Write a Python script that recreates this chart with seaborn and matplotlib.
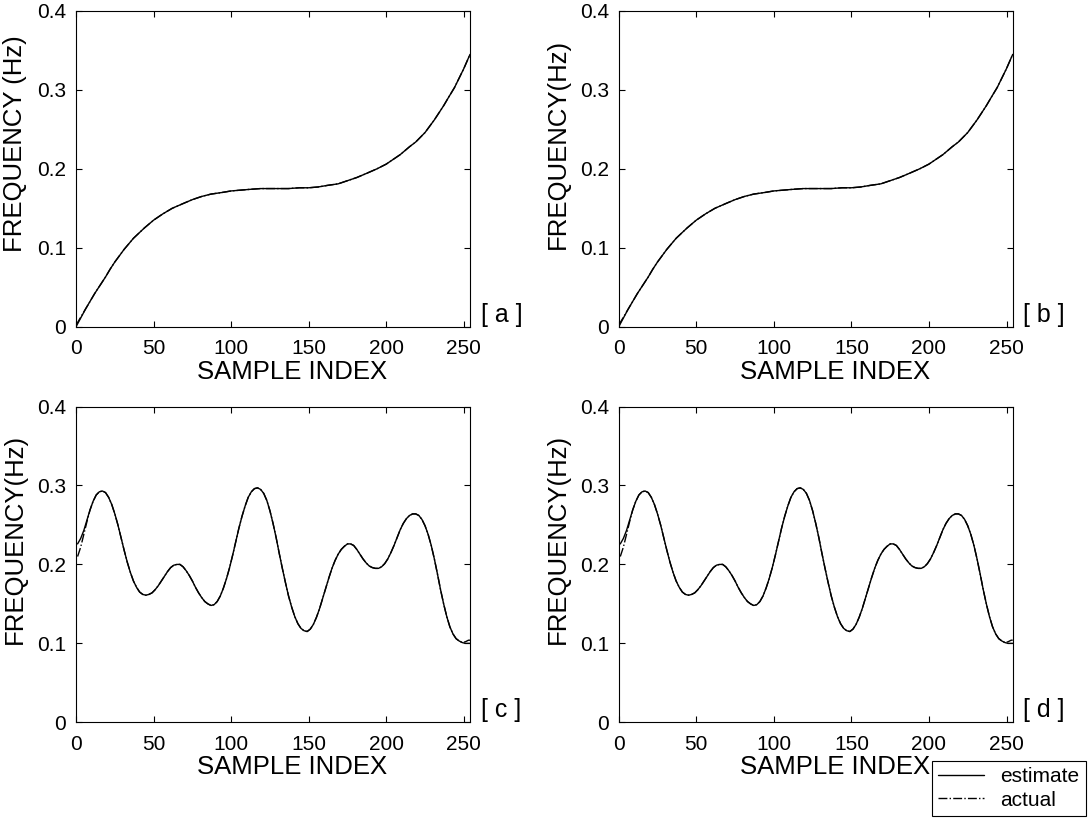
import matplotlib
matplotlib.use('Agg')
import matplotlib.pyplot as plt
import numpy as np
import pandas as pd
import seaborn as sns

# ---- values ----
# panels a / b : slowly bending chirp
idx_top = [0, 3, 6, 9, 12, 16, 19, 22, 25, 31, 37, 44, 50, 56, 62, 69, 75, 81, 87, 94, 100,
           106, 112, 119, 125, 131, 137, 144, 150, 156, 162, 169, 175, 181, 187,
           194, 200, 203, 206, 209, 212, 215, 219, 222, 225, 228, 231, 234, 237,
           240, 244, 247, 250, 252, 254]
est_top = [0.000, 0.011, 0.022, 0.032, 0.042, 0.054, 0.063, 0.073, 0.082, 0.098, 0.112, 0.125, 0.135, 0.143,
           0.150, 0.156, 0.161, 0.165, 0.168, 0.170, 0.172, 0.173, 0.174, 0.175,
           0.175, 0.175, 0.175, 0.176, 0.176, 0.177, 0.179, 0.181, 0.185, 0.189,
           0.194, 0.200, 0.206, 0.210, 0.214, 0.218, 0.223, 0.228, 0.234, 0.240,
           0.246, 0.254, 0.262, 0.271, 0.280, 0.290, 0.303, 0.315, 0.327, 0.336,
           0.345]
act_top = [0.002, 0.012, 0.022, 0.032, 0.042, 0.054, 0.063, 0.073, 0.082, 0.098, 0.112, 0.125, 0.135, 0.143,
           0.150, 0.156, 0.161, 0.165, 0.168, 0.170, 0.172, 0.173, 0.174, 0.175,
           0.175, 0.175, 0.175, 0.176, 0.176, 0.177, 0.179, 0.181, 0.185, 0.189,
           0.194, 0.200, 0.206, 0.210, 0.214, 0.218, 0.223, 0.228, 0.234, 0.240,
           0.246, 0.254, 0.262, 0.271, 0.280, 0.290, 0.303, 0.315, 0.327, 0.336,
           0.345]

# panels c / d : wiggly frequency track
idx_bot = [1, 3, 5, 7, 9, 11, 13, 15, 17, 19, 21, 23, 25, 27, 29, 31, 33, 35,
           37, 39, 41, 43, 45, 47, 49, 51, 53, 55, 57, 59, 61, 63, 65, 67, 69,
           71, 73, 75, 77, 79, 81, 83, 85, 87, 89, 91, 93, 95, 97, 99, 101, 103,
           105, 107, 109, 111, 113, 115, 117, 119, 121, 123, 125, 127, 129, 131,
           133, 135, 137, 139, 141, 143, 145, 147, 149, 151, 153, 155, 157, 159,
           161, 163, 165, 167, 169, 171, 173, 175, 177, 179, 181, 183, 185, 187,
           189, 191, 193, 195, 197, 199, 201, 203, 205, 207, 209, 211, 213, 215,
           217, 219, 221, 223, 225, 227, 229, 231, 233, 235, 237, 239, 241, 243,
           245, 247, 249, 251, 253, 254]
est_bot = [0.226, 0.233, 0.243, 0.256, 0.269, 0.280, 0.288, 0.292, 0.293, 0.291,
           0.285, 0.276, 0.264, 0.250, 0.234, 0.218, 0.203, 0.190, 0.179, 0.171,
           0.165, 0.162, 0.161, 0.162, 0.164, 0.168, 0.173, 0.179, 0.185, 0.191,
           0.196, 0.199, 0.200, 0.200, 0.197, 0.192, 0.186, 0.179, 0.171, 0.164,
           0.158, 0.153, 0.150, 0.148, 0.149, 0.153, 0.160, 0.170, 0.182, 0.196,
           0.212, 0.229, 0.246, 0.261, 0.274, 0.285, 0.292, 0.296, 0.297, 0.295,
           0.290, 0.281, 0.268, 0.252, 0.234, 0.214, 0.195, 0.177, 0.160, 0.146,
           0.134, 0.125, 0.119, 0.116, 0.115, 0.118, 0.124, 0.133, 0.144, 0.157,
           0.170, 0.183, 0.195, 0.205, 0.213, 0.219, 0.223, 0.226, 0.226, 0.224,
           0.219, 0.213, 0.207, 0.202, 0.198, 0.196, 0.195, 0.195, 0.197, 0.201,
           0.207, 0.215, 0.224, 0.234, 0.244, 0.252, 0.258, 0.262, 0.264, 0.264,
           0.262, 0.257, 0.249, 0.238, 0.224, 0.207, 0.188, 0.168, 0.150, 0.134,
           0.121, 0.112, 0.106, 0.103, 0.101, 0.100, 0.100, 0.100]
act_bot = [0.210, 0.222, 0.238, 0.254, 0.269, 0.280, 0.288, 0.292, 0.293, 0.291,
           0.285, 0.276, 0.264, 0.250, 0.234, 0.218, 0.203, 0.190, 0.179, 0.171,
           0.165, 0.162, 0.161, 0.162, 0.164, 0.168, 0.173, 0.179, 0.185, 0.191,
           0.196, 0.199, 0.200, 0.200, 0.197, 0.192, 0.186, 0.179, 0.171, 0.164,
           0.158, 0.153, 0.150, 0.148, 0.149, 0.153, 0.160, 0.170, 0.182, 0.196,
           0.212, 0.229, 0.246, 0.261, 0.274, 0.285, 0.292, 0.296, 0.297, 0.295,
           0.290, 0.281, 0.268, 0.252, 0.234, 0.214, 0.195, 0.177, 0.160, 0.146,
           0.134, 0.125, 0.119, 0.116, 0.115, 0.118, 0.124, 0.133, 0.144, 0.157,
           0.170, 0.183, 0.195, 0.205, 0.213, 0.219, 0.223, 0.226, 0.226, 0.224,
           0.219, 0.213, 0.207, 0.202, 0.198, 0.196, 0.195, 0.195, 0.197, 0.201,
           0.207, 0.215, 0.224, 0.234, 0.244, 0.252, 0.258, 0.262, 0.264, 0.264,
           0.262, 0.257, 0.249, 0.238, 0.224, 0.207, 0.188, 0.168, 0.150, 0.134,
           0.121, 0.112, 0.106, 0.103, 0.101, 0.102, 0.104, 0.104]

panel_tags = ['[ a ]', '[ b ]', '[ c ]', '[ d ]']
ylabels = ['FREQUENCY (Hz)', 'FREQUENCY(Hz)', 'FREQUENCY(Hz)', 'FREQUENCY(Hz)']
xticks = [0, 50, 100, 150, 200, 250]
yticks = [0, 0.1, 0.2, 0.3, 0.4]
ytick_labels = ['0', '0.1', '0.2', '0.3', '0.4']

sns.set_style('ticks')
plt.rcParams['font.family'] = ['Liberation Sans', 'DejaVu Sans']
plt.rcParams['axes.edgecolor'] = 'black'
plt.rcParams['axes.linewidth'] = 0.8
plt.rcParams['text.color'] = 'black'
plt.rcParams['axes.labelcolor'] = 'black'
plt.rcParams['xtick.color'] = 'black'
plt.rcParams['ytick.color'] = 'black'

fig = plt.figure(figsize=(10.88, 8.18), dpi=100)

# [left, bottom] of each panel in figure fractions
positions = [(0.0699, 0.6006), (0.5687, 0.6006), (0.0699, 0.1170), (0.5687, 0.1170)]
w, h = 0.3621, 0.3860

series = [(idx_top, est_top, act_top), (idx_top, est_top, act_top),
          (idx_bot, est_bot, act_bot), (idx_bot, est_bot, act_bot)]

for i, (pos, (xs, est, act)) in enumerate(zip(positions, series)):
    ax = fig.add_axes([pos[0], pos[1], w, h])
    sns.lineplot(x=xs, y=act, ax=ax, color='black', lw=1.0, linestyle='-.',
                 estimator=None, sort=False, legend=False)
    sns.lineplot(x=xs, y=est, ax=ax, color='black', lw=1.0,
                 estimator=None, sort=False, legend=False)
    ax.set_xlim(0, 254)
    ax.set_ylim(0, 0.4)
    ax.set_xticks(xticks)
    ax.set_yticks(yticks)
    ax.set_yticklabels(ytick_labels)
    ax.tick_params(direction='in', length=4, width=0.8, top=True, right=True,
                   labelsize=15, pad=7)
    ax.tick_params(axis='x', pad=9)
    ax.set_xlabel('SAMPLE INDEX', fontsize=18.5)
    ax.set_ylabel(ylabels[i], fontsize=18.5)
    ax.xaxis.set_label_coords(0.548, -0.105)
    ax.yaxis.set_label_coords(-0.125, 0.58)
    ax.text(1.027, 0.0, panel_tags[i], transform=ax.transAxes, ha='left',
            va='bottom', fontsize=18)

lines = ax.get_lines()
leg = fig.legend([lines[1], lines[0]], ['estimate', 'actual'], loc='lower right',
                 bbox_to_anchor=(1.0, 0.0), frameon=True, fancybox=False,
                 edgecolor='black', framealpha=1, borderaxespad=0.1, fontsize=15,
                 handlelength=2.2, labelspacing=0.2, borderpad=0.3)
leg.get_frame().set_linewidth(0.8)

fig.savefig('out.png', dpi=100)
